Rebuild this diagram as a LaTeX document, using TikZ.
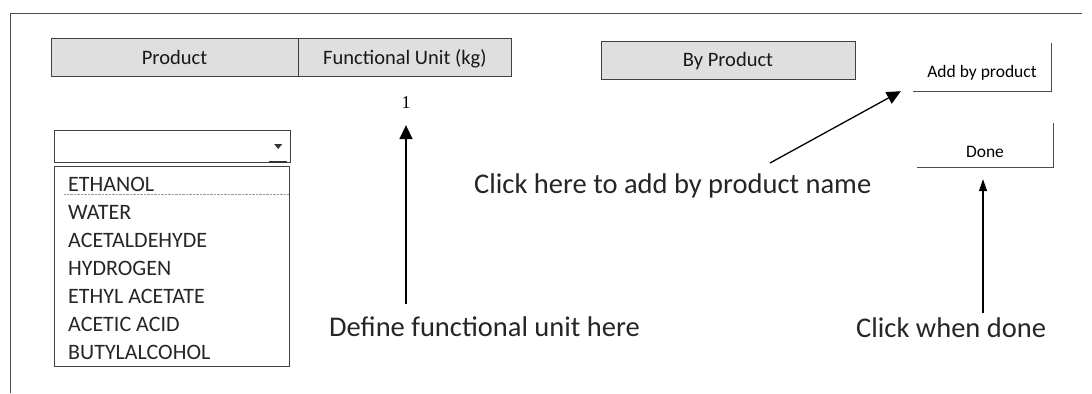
\documentclass[tikz,border=0pt]{standalone}
\usepackage{fontspec}
\setmainfont{Carlito}
\newfontfamily\numfont{Liberation Serif}
\usetikzlibrary{arrows.meta,positioning,calc}

\begin{document}
\begin{tikzpicture}[x=1pt, y=-1pt,
    hdr/.style={draw=black!75, fill=gray!25, minimum height=38pt, inner sep=0pt, text height=13pt, text depth=0pt, text=black!90, font=\fontsize{20.5}{24}\selectfont},
    btn/.style={minimum width=138pt, inner sep=0pt, text height=12pt, text depth=0pt, font=\fontsize{17.5}{20}\selectfont},
    item/.style={anchor=base west, inner sep=0pt, font=\fontsize{22}{26}\selectfont, text=black!85},
    note/.style={anchor=base west, inner sep=0pt, font=\fontsize{28.5}{32}\selectfont, text=black!85},
    arr/.style={-{Triangle[length=14pt, width=13pt]}, line width=1.6pt},
    arrsm/.style={-{Triangle[length=12pt, width=8pt]}, line width=1.2pt},
]
    \path[fill=white] (0,0) rectangle (1092,393);

    % Frame
    \draw[black!70, line width=1pt] (10,393) -- (10,13) -- (1082,13);

    % Headers
    \node[hdr, minimum width=247pt] (prod) at (174.5,57.5) {Product};
    \node[hdr, minimum width=213pt, right=0pt of prod] (fu) {Functional Unit (kg)};
    \node[hdr, minimum width=254pt] (byprod) at (728,60) {By Product};
    \node[font=\numfont\fontsize{18}{20}\selectfont, inner sep=1pt] (fu_val) at (406,103) {1};

    % Product selection
    \node[draw=black!75, minimum width=236pt, minimum height=32pt, inner sep=0pt] (combo) at (172,146) {};
    \fill[black!80] ($(combo.east)+(-16,-2)$) -- ++(8,0) -- ++(-4,5) -- cycle;
    \draw[black!80, line width=1.5pt] ([xshift=-21pt]combo.south east) -- ([xshift=-3pt]combo.south east);
    \node[draw=black!75, minimum width=235pt, minimum height=200pt, inner sep=0pt] (plist) at (171.5,266) {};
    \node[item] (eth) at (68,191) {ETHANOL};
    \node[item] (wat) at (68,219) {WATER};
    \node[item] (acd) at (68,247) {ACETALDEHYDE};
    \node[item] (hyd) at (68,275) {HYDROGEN};
    \node[item] (eta) at (68,303) {ETHYL ACETATE};
    \node[item] (aca) at (68,331) {ACETIC ACID};
    \node[item] (but) at (68,359) {BUTYLALCOHOL};
    \draw[black!40, densely dotted] ([xshift=-4pt,yshift=-3pt]eth.south west) -- ([yshift=-3pt]eth.south -| plist.east);

    % Buttons
    \node[btn, minimum height=40pt] (addbtn) at (982,71) {Add by product};
    \draw[black!70] ([yshift=8pt]addbtn.north east) -- (addbtn.south east) -- (addbtn.south west);
    \node[btn, minimum width=136pt, minimum height=32pt] (donebtn) at (985,151) {Done};
    \draw[black!70] ([yshift=12pt]donebtn.north east) -- (donebtn.south east) -- (donebtn.south west);

    % Notes
    \node[note] (add_note) at (474,193) {Click here to add by product name};
    \node[note] (fu_note) at (329,336) {Define functional unit here};
    \node[note] (done_note) at (856,337) {Click when done};

    % Arrows
    \coordinate (fu_tail) at (406,304);
    \coordinate (add_tail) at (770,163);
    \coordinate (done_tail) at (983,313);
    \draw[arr, shorten >=15pt] (fu_tail) -- (fu_val);
    \draw[arr, line width=1.3pt] (add_tail) -- ([xshift=-12pt]addbtn.south west);
    \draw[arrsm, shorten >=12pt] (done_tail) -- (done_tail |- donebtn.south);
\end{tikzpicture}
\end{document}
